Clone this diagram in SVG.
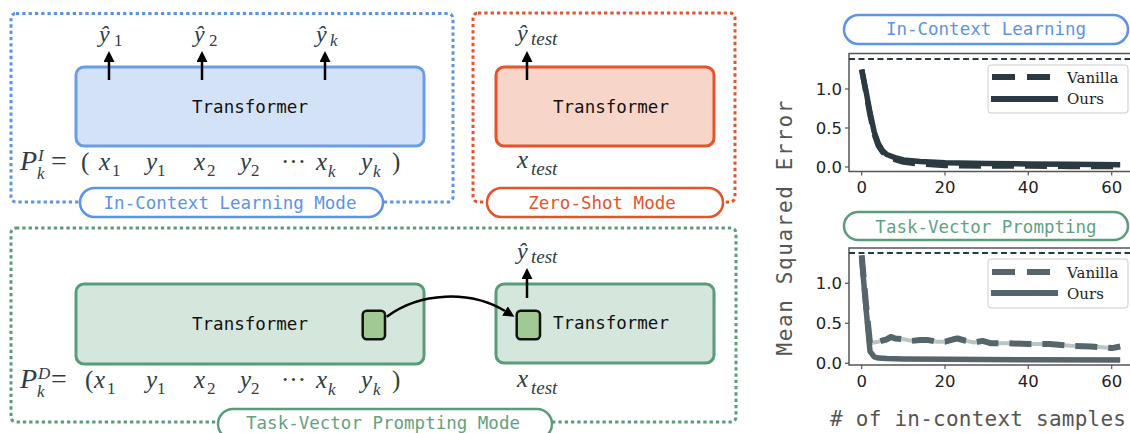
<svg xmlns="http://www.w3.org/2000/svg" width="1130" height="433" viewBox="0 0 1130 433">
<style>
.mono{font-family:"DejaVu Sans Mono","Liberation Mono",monospace;}
.tf{font-family:"DejaVu Sans Mono","Liberation Mono",monospace;font-size:17.5px;fill:#111;text-anchor:middle;}
.m{font-family:"Liberation Serif","DejaVu Serif",serif;font-style:italic;font-size:25px;fill:#2e3d47;}
.mh{font-family:"Liberation Serif","DejaVu Serif",serif;font-style:italic;font-size:24px;fill:#2e3d47;}
.mr{font-family:"Liberation Serif","DejaVu Serif",serif;font-size:25px;fill:#2e3d47;}
.sb{font-family:"Liberation Serif","DejaVu Serif",serif;font-size:17px;fill:#2e3d47;}
.si{font-family:"Liberation Serif","DejaVu Serif",serif;font-style:italic;font-size:17px;fill:#2e3d47;}
.st{font-family:"Liberation Serif","DejaVu Serif",serif;font-style:italic;font-size:19px;fill:#2e3d47;}
.arr{stroke:#000;stroke-width:2.5;fill:none;}
.pill{fill:#fff;stroke-width:2.5;}
.tick{font-family:"DejaVu Sans","Liberation Sans",sans-serif;font-size:16.5px;fill:#222;}
.spine{stroke:#555;stroke-width:1.5;fill:none;}
.leg{font-family:"DejaVu Serif","Liberation Serif",serif;font-size:15px;fill:#222;}
.sq{fill:#a1c993;stroke:#111;stroke-width:2.5;}
</style>
<defs>
<marker id="ah" viewBox="0 0 10 10" refX="0" refY="5" markerWidth="11" markerHeight="11" markerUnits="userSpaceOnUse" orient="auto">
<path d="M0,0 L10,5 L0,10 z" fill="#000"/>
</marker>
</defs>
<rect width="1130" height="433" fill="#fff"/>

<!-- In-context learning panel -->
<g id="icl-panel">
<rect x="11" y="13.5" width="442" height="188.5" rx="5" fill="none" stroke="#5b93e6" stroke-width="3" stroke-dasharray="3.3 3"/>
<rect x="76" y="67" width="348" height="79" rx="8" fill="#d4e2f7" stroke="#6b9de6" stroke-width="3"/>
<text class="tf" x="250" y="113">Transformer</text>
<text class="mh" x="99" y="42">ŷ</text><text class="sb" x="114" y="46">1</text>
<text class="mh" x="194" y="42">ŷ</text><text class="sb" x="209" y="46">2</text>
<text class="mh" x="316" y="42">ŷ</text><text class="si" x="330" y="46">k</text>
<text class="m" x="20" y="170" style="font-size:28px">P</text>
<text class="si" x="38" y="161">I</text>
<text class="si" x="37" y="179">k</text>
<text class="mr" x="51" y="170" style="font-size:28px">=</text>
<text class="mr" x="81" y="170">(</text>
<text class="m" x="99" y="170">x</text><text class="sb" x="112" y="176">1</text>
<text class="m" x="146" y="170">y</text><text class="sb" x="157" y="176">1</text>
<text class="m" x="194" y="170">x</text><text class="sb" x="207" y="176">2</text>
<text class="m" x="240" y="170">y</text><text class="sb" x="251" y="176">2</text>
<text class="mr" x="281" y="170">···</text>
<text class="m" x="316" y="170">x</text><text class="si" x="328" y="177">k</text>
<text class="m" x="361" y="170">y</text><text class="si" x="373" y="177">k</text>
<text class="mr" x="392" y="170">)</text>
<rect class="pill" x="80" y="188" width="303" height="29" rx="14.5" stroke="#5b93e6"/>
<text class="mono" x="230" y="209" font-size="17.5" fill="#5b93e6" text-anchor="middle">In-Context Learning Mode</text>
</g>

<!-- Zero-shot panel -->
<g id="zs-panel">
<rect x="473" y="13" width="262" height="189" rx="5" fill="none" stroke="#e4532b" stroke-width="3" stroke-dasharray="3.3 3"/>
<rect x="496" y="67" width="218" height="79" rx="8" fill="#f7d5c8" stroke="#e4532b" stroke-width="3"/>
<text class="tf" x="611" y="113">Transformer</text>
<text class="mh" x="517" y="41">ŷ</text><text class="st" x="531" y="45">test</text>
<text class="m" x="517" y="168">x</text><text class="st" x="531" y="175">test</text>
<rect class="pill" x="487" y="188" width="236" height="29" rx="14.5" stroke="#e4532b"/>
<text class="mono" x="602" y="209" font-size="17.5" fill="#e4532b" text-anchor="middle">Zero-Shot Mode</text>
</g>

<!-- Task-vector prompting panel -->
<g id="tvp-panel">
<rect x="11" y="228" width="725" height="194" rx="5" fill="none" stroke="#5a9c78" stroke-width="3" stroke-dasharray="3.3 3"/>
<rect x="76" y="284" width="348" height="80" rx="8" fill="#d5e6dc" stroke="#5a9c78" stroke-width="3"/>
<text class="tf" x="250" y="330">Transformer</text>
<rect class="sq" x="362.7" y="310.7" width="22.3" height="28.6" rx="4"/>
<rect x="496" y="284" width="218" height="79" rx="8" fill="#d5e6dc" stroke="#5a9c78" stroke-width="3"/>
<text class="tf" x="611" y="329">Transformer</text>
<rect class="sq" x="516.7" y="310.7" width="23.3" height="28.6" rx="4"/>
<text class="mh" x="517" y="259">ŷ</text><text class="st" x="531" y="263">test</text>
<text class="m" x="517" y="387">x</text><text class="st" x="531" y="394">test</text>
<text class="m" x="20" y="388" style="font-size:28px">P</text>
<text class="si" x="38" y="379">D</text>
<text class="si" x="37" y="397">k</text>
<text class="mr" x="51" y="388" style="font-size:28px">=</text>
<text class="mr" x="85" y="388">(</text>
<text class="m" x="94" y="388">x</text><text class="sb" x="107" y="394">1</text>
<text class="m" x="146" y="388">y</text><text class="sb" x="157" y="394">1</text>
<text class="m" x="194" y="388">x</text><text class="sb" x="207" y="394">2</text>
<text class="m" x="240" y="388">y</text><text class="sb" x="251" y="394">2</text>
<text class="mr" x="281" y="388">···</text>
<text class="m" x="316" y="388">x</text><text class="si" x="328" y="395">k</text>
<text class="m" x="361" y="388">y</text><text class="si" x="373" y="395">k</text>
<text class="mr" x="392" y="388">)</text>
<rect class="pill" x="218" y="409" width="334" height="30" rx="15" stroke="#5a9c78"/>
<text class="mono" x="383" y="429" font-size="17.5" fill="#62a27f" text-anchor="middle">Task-Vector Prompting Mode</text>
</g>

<!-- connectors -->
<g id="connectors">
<line class="arr" x1="109" y1="80" x2="109" y2="62" marker-end="url(#ah)"/>
<line class="arr" x1="202" y1="80" x2="202" y2="62" marker-end="url(#ah)"/>
<line class="arr" x1="325" y1="80" x2="325" y2="62" marker-end="url(#ah)"/>
<line class="arr" x1="527" y1="80" x2="527" y2="62" marker-end="url(#ah)"/>
<line class="arr" x1="527" y1="298" x2="527" y2="279" marker-end="url(#ah)"/>
<path class="arr" d="M386.7,316.7 C420,292 470,290 505,311" marker-end="url(#ah)"/>
</g>

<!-- charts -->
<g id="chart-icl">
<rect class="pill" x="844" y="15" width="284" height="29" rx="14.5" stroke="#5b93e6"/>
<text class="mono" x="986" y="35" font-size="17.5" fill="#5b93e6" text-anchor="middle">In-Context Learning</text>
<path class="spine" d="M1132,53.5 H849 V171.5 H1132"/>
<line x1="849" y1="59" x2="1130" y2="59" stroke="#2b3a42" stroke-width="2" stroke-dasharray="6 3.5"/>
<g stroke="#555" stroke-width="1.2">
<line x1="845" y1="89" x2="849" y2="89"/><line x1="845" y1="128" x2="849" y2="128"/><line x1="845" y1="167" x2="849" y2="167"/>
<line x1="861.7" y1="171.5" x2="861.7" y2="175.5"/><line x1="945" y1="171.5" x2="945" y2="175.5"/><line x1="1028.3" y1="171.5" x2="1028.3" y2="175.5"/><line x1="1111.7" y1="171.5" x2="1111.7" y2="175.5"/>
</g>
<g class="tick" text-anchor="end">
<text x="842" y="95">1.0</text><text x="842" y="134">0.5</text><text x="842" y="173">0.0</text>
</g>
<g class="tick" text-anchor="middle">
<text x="861.7" y="193">0</text><text x="945" y="193">20</text><text x="1028.3" y="193">40</text><text x="1111.7" y="193">60</text>
</g>
<polyline fill="none" stroke="#2b3a42" stroke-width="5.5" stroke-dasharray="22 11" stroke-linejoin="round" points="861.7,69.5 865.9,92 870,115 874.2,134 878.4,146 882.5,152 886.7,156 895.1,159.5 903.4,162 920.1,164 945.1,165.5 986.8,166 1028.5,166 1070.2,166.5 1120.2,166.5"/>
<polyline fill="none" stroke="#2b3a42" stroke-width="5.5" stroke-linejoin="round" points="861.7,69.5 865.9,90.6 870,112.4 874.2,131.9 878.4,143.6 882.5,150.6 886.7,154.5 895.1,157.6 903.4,160 920.1,161.5 945.1,162.7 986.8,163.5 1028.5,163.9 1070.2,164.3 1120.2,164.7"/>
<rect x="988" y="65" width="140" height="48" rx="3" fill="#fff" fill-opacity="0.85" stroke="#ccc" stroke-width="1"/>
<line x1="992" y1="77" x2="1052" y2="77" stroke="#2b3a42" stroke-width="6" stroke-dasharray="23 12"/>
<line x1="991" y1="99" x2="1058" y2="99" stroke="#2b3a42" stroke-width="6"/>
<text class="leg" x="1067" y="83">Vanilla</text>
<text class="leg" x="1067" y="104">Ours</text>
</g>

<g id="chart-tvp">
<rect class="pill" x="844" y="212" width="284" height="28" rx="14" stroke="#5a9c78"/>
<text class="mono" x="986" y="232.5" font-size="17.5" fill="#62a27f" text-anchor="middle">Task-Vector Prompting</text>
<path class="spine" d="M1132,248 H849 V365 H1132"/>
<line x1="849" y1="253" x2="1130" y2="253" stroke="#2b3a42" stroke-width="2" stroke-dasharray="6 3.5"/>
<g stroke="#555" stroke-width="1.2">
<line x1="845" y1="283.3" x2="849" y2="283.3"/><line x1="845" y1="323.3" x2="849" y2="323.3"/><line x1="845" y1="363.3" x2="849" y2="363.3"/>
<line x1="861.7" y1="365" x2="861.7" y2="369"/><line x1="945" y1="365" x2="945" y2="369"/><line x1="1028.3" y1="365" x2="1028.3" y2="369"/><line x1="1111.7" y1="365" x2="1111.7" y2="369"/>
</g>
<g class="tick" text-anchor="end">
<text x="842" y="289">1.0</text><text x="842" y="329">0.5</text><text x="842" y="369">0.0</text>
</g>
<g class="tick" text-anchor="middle">
<text x="861.7" y="387">0</text><text x="945" y="387">20</text><text x="1028.3" y="387">40</text><text x="1111.7" y="387">60</text>
</g>
<polyline fill="none" stroke="#bcc5c6" stroke-width="4" stroke-linejoin="round" points="861.7,255.3 865.9,303.3 870,343.3 878.4,341.7 886.7,339.3 890.9,336.9 895.1,338.5 903.4,339.3 911.7,340.9 920.1,340.1 928.4,340.1 936.8,341.7 945.1,341.7 953.4,339.3 957.6,338.5 965.9,340.9 974.3,342.5 982.6,340.9 991,343.3 1007.7,343.3 1028.5,344.1 1049.4,344.1 1070.2,345.7 1091,346.5 1111.9,348.1 1120.2,346.5"/>
<polyline fill="none" stroke="#56646b" stroke-width="6" stroke-dasharray="22 11" stroke-linejoin="round" points="861.7,255.3 865.9,303.3 870,343.3 878.4,341.7 886.7,339.3 890.9,336.9 895.1,338.5 903.4,339.3 911.7,340.9 920.1,340.1 928.4,340.1 936.8,341.7 945.1,341.7 953.4,339.3 957.6,338.5 965.9,340.9 974.3,342.5 982.6,340.9 991,343.3 1007.7,343.3 1028.5,344.1 1049.4,344.1 1070.2,345.7 1091,346.5 1111.9,348.1 1120.2,346.5"/>
<polyline fill="none" stroke="#56646b" stroke-width="5.5" stroke-linejoin="round" points="861.7,258.5 865.9,307.3 870,351.3 874.2,356.9 878.4,358.1 886.7,358.5 903.4,358.9 945.1,359.3 1028.5,359.7 1120.2,360.1"/>
<rect x="988" y="259" width="140" height="49" rx="3" fill="#fff" fill-opacity="0.85" stroke="#ccc" stroke-width="1"/>
<line x1="992" y1="272" x2="1052" y2="272" stroke="#56646b" stroke-width="6" stroke-dasharray="23 12"/>
<line x1="991" y1="293" x2="1058" y2="293" stroke="#56646b" stroke-width="6"/>
<text class="leg" x="1067" y="278">Vanilla</text>
<text class="leg" x="1067" y="299">Ours</text>
</g>

<g id="axis-labels">
<text class="mono" transform="translate(792,228) rotate(-90)" font-size="21" fill="#555" text-anchor="middle" textLength="255" lengthAdjust="spacing">Mean Squared Error</text>
<text class="mono" x="978" y="426" font-size="21" fill="#555" text-anchor="middle" textLength="296" lengthAdjust="spacing"># of in-context samples</text>
</g>
</svg>
